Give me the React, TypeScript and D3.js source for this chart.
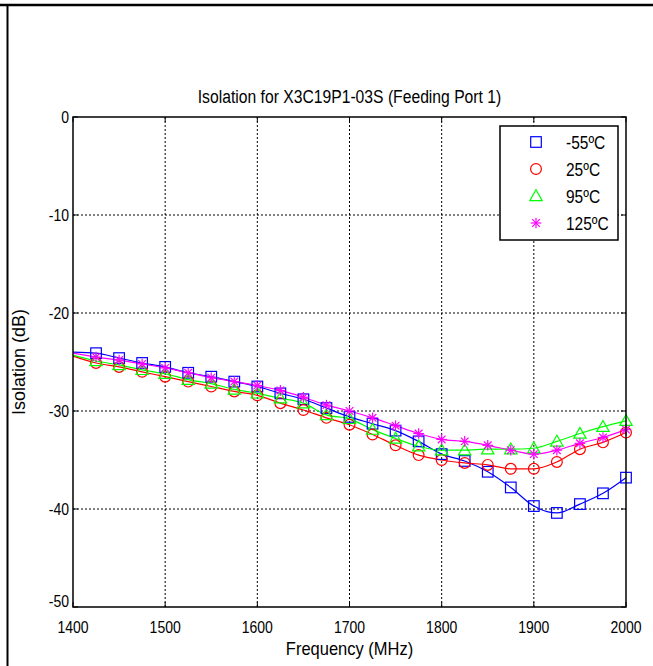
import React from "react";
import * as d3 from "d3";

const freqs = [1400, 1425, 1450, 1475, 1500, 1525, 1550, 1575, 1600, 1625, 1650, 1675, 1700, 1725, 1750, 1775, 1800, 1825, 1850, 1875, 1900, 1925, 1950, 1975, 2000];
const isoM55 = [-24.0, -24.1, -24.6, -25.1, -25.5, -26.1, -26.5, -27.0, -27.5, -28.2, -28.8, -29.7, -30.6, -31.3, -32.0, -33.1, -34.4, -35.1, -36.2, -37.8, -39.7, -40.4, -39.5, -38.4, -36.8];
const iso25 = [-24.4, -25.1, -25.5, -26.0, -26.5, -27.0, -27.5, -28.0, -28.4, -29.2, -29.9, -30.7, -31.4, -32.4, -33.5, -34.5, -35.0, -35.3, -35.5, -35.9, -35.9, -35.2, -33.9, -33.2, -32.2];
const iso95 = [-24.3, -24.9, -25.3, -25.8, -26.2, -26.8, -27.2, -27.8, -28.2, -28.7, -29.2, -30.4, -30.8, -31.9, -32.8, -33.6, -34.0, -34.0, -33.9, -33.9, -33.8, -33.1, -32.3, -31.6, -31.0];
const iso125 = [-24.1, -24.5, -24.8, -25.2, -25.6, -26.1, -26.6, -27.0, -27.4, -27.9, -28.6, -29.4, -30.0, -30.7, -31.5, -32.3, -32.9, -33.1, -33.5, -34.0, -34.4, -34.0, -33.3, -32.7, -31.9];

const seriesNames = ["-55ºC", "25ºC", "95ºC", "125ºC"];
const seriesColors = ["#0000ff", "#ff0000", "#00ff00", "#ff00ff"];
const seriesMarkers = ["square", "circle", "triangle", "star"];
const seriesValues = [isoM55, iso25, iso95, iso125];

const xTicks = [1400, 1500, 1600, 1700, 1800, 1900, 2000];
const yTicks = [0, -10, -20, -30, -40, -50];

const FONT = "'Liberation Sans', Arial, sans-serif";
const STRETCH = 1.15;

function Marker({ type, x, y, color }: { type: string; x: number; y: number; color: string }) {
  const sw = 1.2;
  if (type === "square") {
    const s = 5.3;
    return <rect x={x - s} y={y - s} width={2 * s} height={2 * s} fill="none" stroke={color} strokeWidth={sw} />;
  }
  if (type === "circle") {
    return <circle cx={x} cy={y} r={5.4} fill="none" stroke={color} strokeWidth={sw} />;
  }
  if (type === "triangle") {
    const s = 6.2;
    const pts = `${x},${y - s} ${x + s},${y + s * 0.75} ${x - s},${y + s * 0.75}`;
    return <polygon points={pts} fill="none" stroke={color} strokeWidth={sw} />;
  }
  const r = 5.3;
  const d = r * 0.72;
  return (
    <g stroke={color} strokeWidth={sw}>
      <line x1={x} y1={y - r} x2={x} y2={y + r} />
      <line x1={x - r} y1={y} x2={x + r} y2={y} />
      <line x1={x - d} y1={y - d} x2={x + d} y2={y + d} />
      <line x1={x - d} y1={y + d} x2={x + d} y2={y - d} />
    </g>
  );
}

function T({
  x,
  y,
  size,
  anchor = "start",
  children,
}: {
  x: number;
  y: number;
  size: number;
  anchor?: string;
  children: React.ReactNode;
}) {
  return (
    <text
      transform={`translate(${x},${y}) scale(1,${STRETCH})`}
      textAnchor={anchor}
      fontFamily={FONT}
      fontSize={size}
      fill="#000"
    >
      {children}
    </text>
  );
}

export default function App() {
  const W = 653;
  const H = 666;
  const left = 73;
  const right = 626;
  const top = 117;
  const bottom = 607;

  const x = d3.scaleLinear().domain([1400, 2000]).range([left, right]);
  const y = d3.scaleLinear().domain([-50, 0]).range([bottom, top]);

  const line = d3
    .line<number>()
    .x((_, i) => x(freqs[i]))
    .y((v) => y(v))
    .curve(d3.curveMonotoneX);

  const tickLen = 5;

  const legX = 500;
  const legY = 126;
  const legW = 118;
  const legH = 114;
  const rowYs = [142, 169, 196, 223];

  return (
    <svg width={W} height={H} style={{ position: "absolute", left: 0, top: 0, background: "#fff" }}>
      <rect x={0} y={0} width={W} height={H} fill="#fff" />
      {/* page border */}
      <line x1={0} y1={5} x2={W} y2={5} stroke="#000" strokeWidth={2.5} />
      <line x1={7.5} y1={4} x2={7.5} y2={H} stroke="#000" strokeWidth={2} />

      {/* title */}
      <T x={(left + right) / 2} y={103} size={15.7} anchor="middle">
        Isolation for X3C19P1-03S (Feeding Port 1)
      </T>

      {/* grid */}
      <g stroke="#000" strokeWidth={1} strokeDasharray="2,2">
        {xTicks.slice(1, -1).map((t) => (
          <line key={"gx" + t} x1={x(t)} x2={x(t)} y1={top} y2={bottom} />
        ))}
        {yTicks.slice(1, -1).map((t) => (
          <line key={"gy" + t} x1={left} x2={right} y1={y(t)} y2={y(t)} />
        ))}
      </g>

      {/* series lines */}
      {seriesValues.map((vals, si) => (
        <path key={"l" + si} d={line(vals) || ""} fill="none" stroke={seriesColors[si]} strokeWidth={1.2} />
      ))}
      {/* markers */}
      {seriesValues.map((vals, si) => (
        <g key={"m" + si}>
          {vals.map((v, i) =>
            i === 0 ? null : (
              <Marker key={i} type={seriesMarkers[si]} x={x(freqs[i])} y={y(v)} color={seriesColors[si]} />
            )
          )}
        </g>
      ))}

      {/* axes box */}
      <rect x={left} y={top} width={right - left} height={bottom - top} fill="none" stroke="#000" strokeWidth={1.5} />
      {/* ticks */}
      <g stroke="#000" strokeWidth={1}>
        {xTicks.map((t) => (
          <g key={"tx" + t}>
            <line x1={x(t)} x2={x(t)} y1={bottom} y2={bottom - tickLen} />
            <line x1={x(t)} x2={x(t)} y1={top} y2={top + tickLen} />
          </g>
        ))}
        {yTicks.map((t) => (
          <g key={"ty" + t}>
            <line x1={left} x2={left + tickLen} y1={y(t)} y2={y(t)} />
            <line x1={right} x2={right - tickLen} y1={y(t)} y2={y(t)} />
          </g>
        ))}
      </g>
      {/* tick labels */}
      {xTicks.map((t) => (
        <T key={"lx" + t} x={x(t)} y={bottom + 26} size={14} anchor="middle">
          {t}
        </T>
      ))}
      {yTicks.map((t) => (
        <T key={"ly" + t} x={left - 4} y={y(t) + (t === -50 ? 0 : 6)} size={14} anchor="end">
          {t}
        </T>
      ))}

      {/* axis labels */}
      <T x={(left + right) / 2} y={655} size={16.5} anchor="middle">
        Frequency (MHz)
      </T>
      <text
        transform={`translate(25, ${(top + bottom) / 2}) rotate(-90)`}
        textAnchor="middle"
        fontFamily={FONT}
        fontSize={18}
        fill="#000"
      >
        Isolation (dB)
      </text>

      {/* legend */}
      <rect x={legX} y={legY} width={legW} height={legH} fill="#fff" stroke="#000" strokeWidth={1.5} />
      {seriesNames.map((n, i) => (
        <g key={"lg" + i}>
          <Marker type={seriesMarkers[i]} x={536} y={rowYs[i]} color={seriesColors[i]} />
          <T x={566} y={rowYs[i] + 7} size={15.5}>
            {n}
          </T>
        </g>
      ))}
    </svg>
  );
}
